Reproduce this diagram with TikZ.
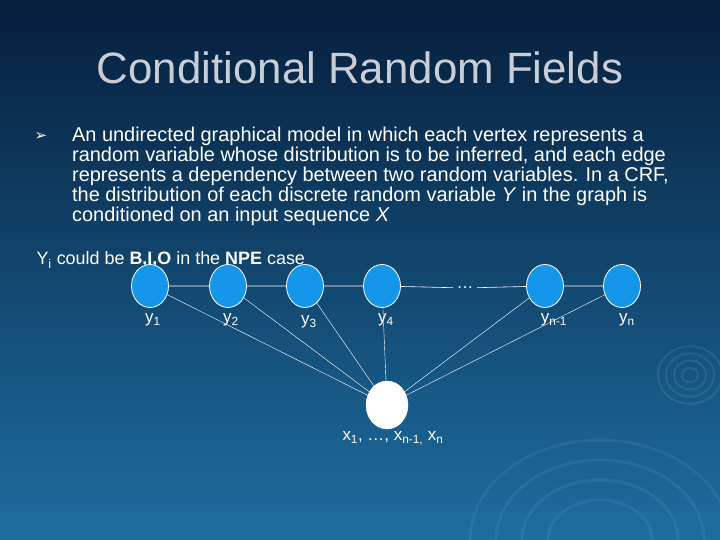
\documentclass[tikz,border=0pt]{standalone}
\usetikzlibrary{shapes.geometric}
\usepackage{fontspec}
\setmainfont{Liberation Sans}
\newfontfamily\dejavu{DejaVu Sans}
\begin{document}
\begin{tikzpicture}[x=1bp,y=-1bp,
  yn/.style={ellipse,draw=white,line width=0.8pt,fill={rgb,255:red,20;green,150;blue,235},minimum width=37bp,minimum height=43bp,inner sep=0pt},
  lab/.style={text=white,font=\fontsize{17}{19}\selectfont},
  ln/.style={draw=white,line width=0.6pt}]
\useasboundingbox (0,0) rectangle (720,540);
\shade[top color={rgb,255:red,6;green,30;blue,60},bottom color={rgb,255:red,30;green,110;blue,160}] (0,0) rectangle (720,540);
\foreach \r in {8,16,24,32} \draw[white,opacity=0.08,line width=2pt] (690,375) ellipse ({\r} and {\r*0.9});
\foreach \r in {40,60,80,100} \draw[white,opacity=0.06,line width=3pt] (600,540) ellipse ({\r*1.3} and {\r});
\node[text={rgb,255:red,200;green,205;blue,215},font=\fontsize{44}{48}\selectfont] (title) at (360,68) {Conditional Random Fields};
\node[text=white,font=\dejavu\fontsize{15}{17}\selectfont] (bul) at (41,137) {➢};
\node[text=white,anchor=north west,align=left,font=\fontsize{20}{20}\selectfont,inner sep=0pt] (body) at (72,127)
{An undirected graphical model in which each vertex represents a\\
random variable whose distribution is to be inferred, and each edge\\
represents a dependency between two random variables. In a CRF,\\
the distribution of each discrete random variable \textit{Y} in the graph is\\
conditioned on an input sequence \textit{X}};
\node[lab,anchor=west,font=\fontsize{18}{20}\selectfont] (note) at (33,260) {Y\textsubscript{i} could be \textbf{B,I,O} in the \textbf{NPE} case};
\node[yn] (y1) at (150,286) {};
\node[yn] (y2) at (228,286) {};
\node[yn] (y3) at (305,286) {};
\node[yn] (y4) at (382,286) {};
\node[yn] (yn1) at (545,286) {};
\node[yn] (yn) at (622,286) {};
\node[lab] (dots) at (465,288) {…};
\node[ellipse,draw=white,fill=white,minimum width=42bp,minimum height=48bp,inner sep=0pt] (x) at (387,405) {};
\draw[ln] (y1)--(y2) (y2)--(y3) (y3)--(y4) (y4)--(dots) (dots)--(yn1) (yn1)--(yn);
\foreach \n in {y1,y2,y3,y4,yn1,yn} \draw[ln,line width=0.4pt] (x)--(\n);
\node[lab] at (153,320) {y\textsubscript{1}};
\node[lab] at (231,320) {y\textsubscript{2}};
\node[lab] at (309,322) {y\textsubscript{3}};
\node[lab] at (386,320) {y\textsubscript{4}};
\node[lab] at (554,320) {y\textsubscript{n-1}};
\node[lab] at (627,320) {y\textsubscript{n}};
\node[lab] (xl) at (393,438) {x\textsubscript{1}, …, x\textsubscript{n-1,} x\textsubscript{n}};
\end{tikzpicture}
\end{document}
